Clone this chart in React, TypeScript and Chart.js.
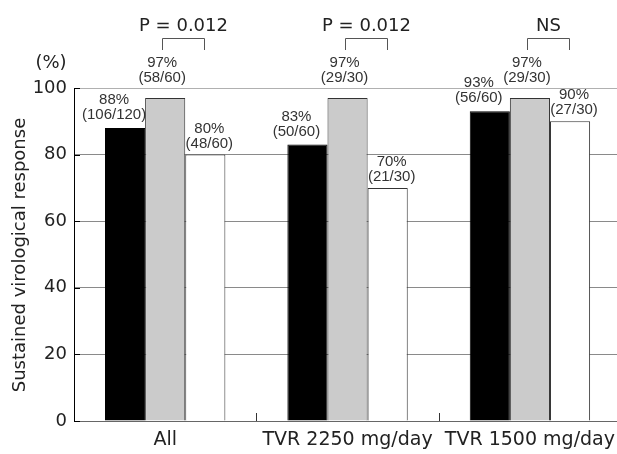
import React, { useEffect, useRef } from "react";
import { Chart, registerables } from "chart.js";

Chart.register(...registerables);

const categories = ["All", "TVR 2250 mg/day", "TVR 1500 mg/day"];
const seriesNames = ["Series A", "Series B", "Series C"];
const blackValues = [88, 83, 93];
const grayValues = [97, 97, 97];
const whiteValues = [80, 70, 90];
const blackFractions = ["(106/120)", "(50/60)", "(56/60)"];
const grayFractions = ["(58/60)", "(29/30)", "(29/30)"];
const whiteFractions = ["(48/60)", "(21/30)", "(27/30)"];
const pLabels = ["P = 0.012", "P = 0.012", "NS"];
const yTicks = [0, 20, 40, 60, 80, 100];

const FONT = "'DejaVu Sans', sans-serif";
const LFONT = "'Liberation Sans', Arial, sans-serif";

export default function App() {
  const ref = useRef<HTMLCanvasElement | null>(null);

  useEffect(() => {
    const canvas = ref.current;
    if (!canvas) return;
    const fractions = [blackFractions, grayFractions, whiteFractions];
    const labelDx = [-11, -3, 4];
    const labelGap = [13, 20, 11];

    const annot = {
      id: "annot",
      afterDatasetsDraw(chart: any) {
        const ctx = chart.ctx;
        const area = chart.chartArea;
        const yScale = chart.scales.y;
        ctx.save();
        // bar labels
        ctx.font = `15px ${LFONT}`;
        ctx.fillStyle = "#333";
        ctx.textAlign = "center";
        ctx.textBaseline = "middle";
        for (let d = 0; d < 3; d++) {
          const meta = chart.getDatasetMeta(d);
          meta.data.forEach((el: any, i: number) => {
            const v = chart.data.datasets[d].data[i];
            const x = el.x + labelDx[d];
            const y2 = el.y - labelGap[d];
            ctx.fillText(fractions[d][i], x, y2);
            ctx.fillText(`${v}%`, x, y2 - 15);
          });
        }
        // y tick marks (inward)
        ctx.strokeStyle = "#000";
        ctx.lineWidth = 1;
        yTicks.forEach((t) => {
          const y = Math.round(yScale.getPixelForValue(t)) + 0.5;
          ctx.beginPath();
          ctx.moveTo(area.left, y);
          ctx.lineTo(area.left + 6, y);
          ctx.stroke();
        });
        // x boundary ticks
        const m0 = chart.getDatasetMeta(1);
        ctx.strokeStyle = "#333";
        for (let i = 0; i < m0.data.length - 1; i++) {
          const x = Math.round((m0.data[i].x + m0.data[i + 1].x) / 2) + 0.5;
          ctx.beginPath();
          ctx.moveTo(x, area.bottom);
          ctx.lineTo(x, area.bottom - 8);
          ctx.stroke();
        }
        // brackets
        const mg = chart.getDatasetMeta(1);
        const mw = chart.getDatasetMeta(2);
        ctx.strokeStyle = "#555";
        ctx.font = `18px ${FONT}`;
        ctx.fillStyle = "#222";
        for (let i = 0; i < mg.data.length; i++) {
          const x1 = Math.round(mg.data[i].x - 3) + 0.5;
          const x2 = Math.round(mw.data[i].x - 1) + 0.5;
          ctx.beginPath();
          ctx.moveTo(x1, 50);
          ctx.lineTo(x1, 38.5);
          ctx.lineTo(x2, 38.5);
          ctx.lineTo(x2, 50);
          ctx.stroke();
          ctx.fillText(pLabels[i], (x1 + x2) / 2, 26);
        }
        // (%) and y title
        ctx.fillText("(%)", 51, 63);
        ctx.translate(20, 255);
        ctx.rotate(-Math.PI / 2);
        ctx.fillText("Sustained virological response", 0, 0);
        ctx.restore();
      },
    };

    const chart = new Chart(canvas, {
      type: "bar",
      data: {
        labels: categories,
        datasets: [
          {
            label: seriesNames[0],
            data: blackValues,
            backgroundColor: "#000",
            borderColor: "#000",
            borderWidth: 1,
          },
          {
            label: seriesNames[1],
            data: grayValues,
            backgroundColor: "#cbcbcb",
            borderColor: "#333",
            borderWidth: 1,
          },
          {
            label: seriesNames[2],
            data: whiteValues,
            backgroundColor: "#fff",
            borderColor: "#333",
            borderWidth: 1,
          },
        ],
      },
      options: {
        responsive: false,
        animation: false,
        layout: { padding: { top: 88, left: 0, right: 0, bottom: 0 } },
        datasets: {
          bar: { barPercentage: 1, categoryPercentage: 0.66 },
        },
        plugins: {
          legend: { display: false },
          tooltip: { enabled: false },
          title: { display: false },
        },
        scales: {
          x: {
            grid: { display: false, drawTicks: false },
            border: { color: "#666", width: 1 },
            ticks: {
              font: { family: FONT, size: 19 },
              color: "#222",
              padding: 8,
            },
            afterFit(scale: any) {
              scale.height = 33;
            },
          },
          y: {
            min: 0,
            max: 100,
            ticks: {
              stepSize: 20,
              font: { family: FONT, size: 18 },
              color: "#222",
              padding: 7,
            },
            grid: {
              drawTicks: false,
              color: (c: any) => (c.tick && c.tick.value === 100 ? "#b0b0b0" : "#8a8a8a"),
              lineWidth: 1,
            },
            border: { color: "#000", width: 1 },
            afterFit(scale: any) {
              scale.width = 74;
            },
          },
        },
      },
      plugins: [annot],
    });
    return () => chart.destroy();
  }, []);

  return (
    <div
      style={{
        position: "absolute",
        left: 0,
        top: 0,
        width: 617,
        height: 454,
        overflow: "hidden",
        background: "#fff",
      }}
    >
      <canvas ref={ref} width={623} height={454} style={{ display: "block" }} />
    </div>
  );
}
